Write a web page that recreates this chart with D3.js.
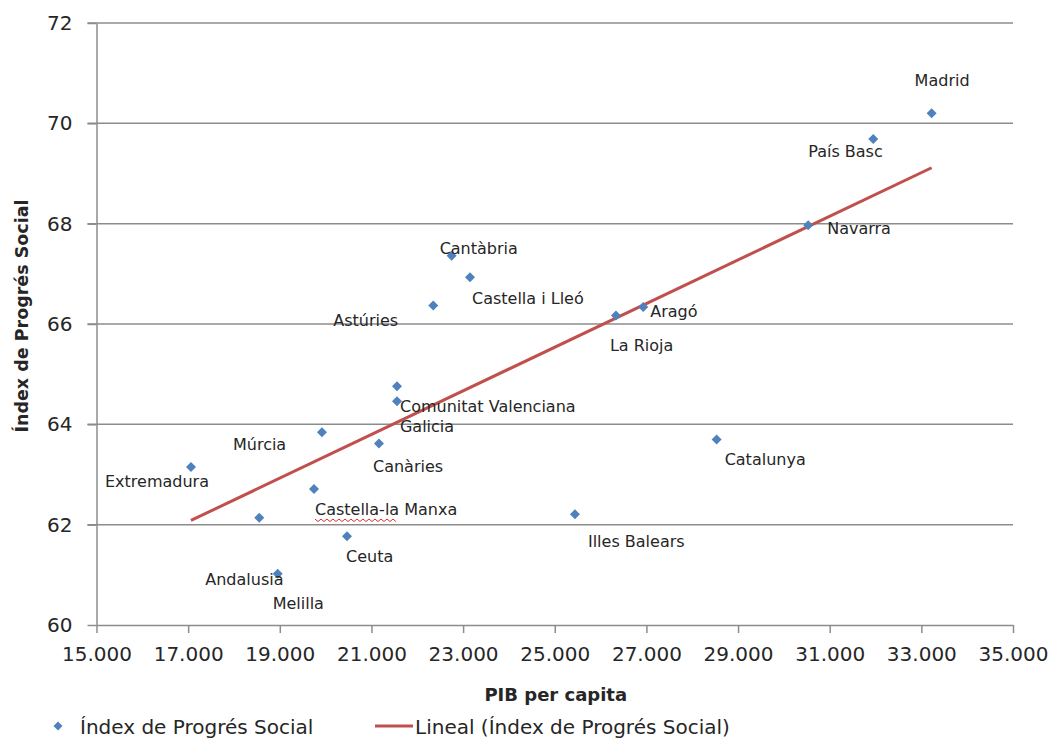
<!DOCTYPE html>
<html>
<head>
<meta charset="utf-8">
<script src="https://cdn.jsdelivr.net/npm/d3@7"></script>
<style>
    body { margin: 0; background: #fff; }
    text { font-family: "DejaVu Sans", sans-serif; fill: #262626; }
</style>
</head>
<body>
<div id="chart"></div>
<script>
// regions, GDP per capita and social progress index
const regions = ["Madrid", "País Basc", "Navarra", "Cantàbria", "Castella i Lleó", "Astúries",
    "La Rioja", "Aragó", "Comunitat Valenciana", "Galicia", "Múrcia", "Canàries",
    "Castella-la Manxa", "Illes Balears", "Ceuta", "Extremadura", "Andalusia", "Melilla", "Catalunya"];
const pib = [33224, 31950, 30530, 22750, 23150, 22349,
    26335, 26931, 21557, 21557, 19920, 21164,
    19746, 25441, 20466, 17062, 18552, 18954, 28533];
const ips = [70.20, 69.69, 67.97, 67.36, 66.93, 66.37,
    66.17, 66.34, 64.76, 64.46, 63.84, 63.62,
    62.71, 62.21, 61.77, 63.15, 62.14, 61.02, 63.70];

const xTicks = [15000, 17000, 19000, 21000, 23000, 25000, 27000, 29000, 31000, 33000, 35000];
const yTicks = [60, 62, 64, 66, 68, 70, 72];

// label offsets from each point (dx, dy to text baseline), as moved in the original
const labelOffset = {
    "Madrid": [-17, -27], "País Basc": [-65, 18], "Navarra": [19, 9], "Cantàbria": [-12, -2],
    "Castella i Lleó": [2, 27], "Astúries": [-100, 21], "La Rioja": [-6, 36], "Aragó": [7, 10],
    "Comunitat Valenciana": [3, 26], "Galicia": [3, 31], "Múrcia": [-89, 18], "Canàries": [-6, 29],
    "Castella-la Manxa": [1, 26], "Illes Balears": [13, 33], "Ceuta": [-1, 26],
    "Extremadura": [-86, 20], "Andalusia": [-54, 67], "Melilla": [-5, 35], "Catalunya": [8, 26]
};

const data = regions.map((r, i) => ({name: r, x: pib[i], y: ips[i]}));

const width = 1052, height = 738;
const m = {left: 96.5, right: 1013, top: 23, bottom: 625};

const svg = d3.select("#chart").append("svg")
    .attr("width", width)
    .attr("height", height);

const x = d3.scaleLinear().domain([15000, 35000]).range([m.left, m.right]);
const y = d3.scaleLinear().domain([60, 72]).range([m.bottom, m.top]);

const locale = d3.formatLocale({decimal: ",", thousands: ".", grouping: [3], currency: ["", "€"]});
const fmt = locale.format(",d");

const gridColor = "#8c8c8c";

// horizontal gridlines (with the little outer tick on the left)
svg.append("g")
    .selectAll("line")
    .data(yTicks.filter(d => d > 60))
    .join("line")
    .attr("x1", m.left - 9)
    .attr("x2", m.right)
    .attr("y1", d => y(d))
    .attr("y2", d => y(d))
    .attr("stroke", gridColor)
    .attr("stroke-width", 1.5);

// y axis
let yAxis = svg.append("g")
    .attr("transform", `translate(${m.left},0)`)
    .call(d3.axisLeft(y).tickValues(yTicks).tickSize(9).tickSizeOuter(0).tickPadding(15));
yAxis.select(".domain").attr("stroke", gridColor).attr("stroke-width", 1.5);
yAxis.selectAll(".tick line").attr("stroke", gridColor).attr("stroke-width", 1.5);
yAxis.selectAll("text")
    .attr("font-size", "20")
    .attr("font-family", "DejaVu Sans")
    .attr("fill", "#262626");

// x axis
let xAxis = svg.append("g")
    .attr("transform", `translate(0,${m.bottom})`)
    .call(d3.axisBottom(x).tickValues(xTicks).tickSize(8).tickSizeOuter(0).tickFormat(fmt).tickPadding(14));
xAxis.select(".domain").attr("stroke", gridColor).attr("stroke-width", 1.5);
xAxis.selectAll(".tick line").attr("stroke", gridColor).attr("stroke-width", 1.5);
xAxis.selectAll("text")
    .attr("font-size", "20")
    .attr("font-family", "DejaVu Sans")
    .attr("fill", "#262626");

// linear trend (least squares)
const mx = d3.mean(pib), my = d3.mean(ips);
const slope = d3.sum(data, d => (d.x - mx) * (d.y - my)) / d3.sum(data, d => (d.x - mx) ** 2);
const icpt = my - slope * mx;
const ext = d3.extent(pib);
svg.append("path")
    .datum(ext.map(v => [v, icpt + slope * v]))
    .attr("d", d3.line().x(d => x(d[0])).y(d => y(d[1])))
    .attr("fill", "none")
    .attr("stroke", "#C0504D")
    .attr("stroke-width", 3);

// points
const diamond = d3.symbol(d3.symbolSquare, 50);
svg.append("g")
    .selectAll("path")
    .data(data)
    .join("path")
    .attr("d", diamond)
    .attr("transform", d => `translate(${x(d.x)},${y(d.y)}) rotate(45)`)
    .attr("fill", "#4F81BD");

// data labels
svg.append("g")
    .selectAll("text")
    .data(data)
    .join("text")
    .attr("x", d => x(d.x) + labelOffset[d.name][0])
    .attr("y", d => y(d.y) + labelOffset[d.name][1])
    .attr("font-size", "16")
    .attr("fill", "#1f1f1f")
    .text(d => d.name);

// spell-check squiggle under "Castella-la"
let clm = data.find(d => d.name === "Castella-la Manxa");
let sx = x(clm.x) + labelOffset[clm.name][0], sy = y(clm.y) + labelOffset[clm.name][1] + 5;
let wave = d3.range(0, 84, 3).map((v, i) => [sx + v, sy + (i % 2 ? 1.5 : -1)]);
svg.append("path")
    .attr("d", d3.line()(wave))
    .attr("fill", "none")
    .attr("stroke", "#e03030")
    .attr("stroke-width", 1);

// axis titles
svg.append("text")
    .attr("text-anchor", "middle")
    .attr("x", (m.left + m.right) / 2 + 1)
    .attr("y", 701)
    .attr("font-size", "18")
    .attr("font-weight", "bold")
    .attr("fill", "#000")
    .text("PIB per capita");

svg.append("text")
    .attr("text-anchor", "middle")
    .attr("transform", "translate(28,316) rotate(-90)")
    .attr("font-size", "17.5")
    .attr("font-weight", "bold")
    .attr("fill", "#000")
    .text("Índex de Progrés Social");

// legend
svg.append("path")
    .attr("d", d3.symbol(d3.symbolSquare, 40))
    .attr("transform", "translate(58,726) rotate(45)")
    .attr("fill", "#4F81BD");
svg.append("text")
    .attr("x", 80)
    .attr("y", 734)
    .attr("font-size", "20")
    .text("Índex de Progrés Social");

svg.append("line")
    .attr("x1", 375).attr("x2", 413)
    .attr("y1", 726).attr("y2", 726)
    .attr("stroke", "#C0504D")
    .attr("stroke-width", 3);
svg.append("text")
    .attr("x", 415)
    .attr("y", 734)
    .attr("font-size", "20")
    .text("Lineal (Índex de Progrés Social)");
</script>
</body>
</html>
